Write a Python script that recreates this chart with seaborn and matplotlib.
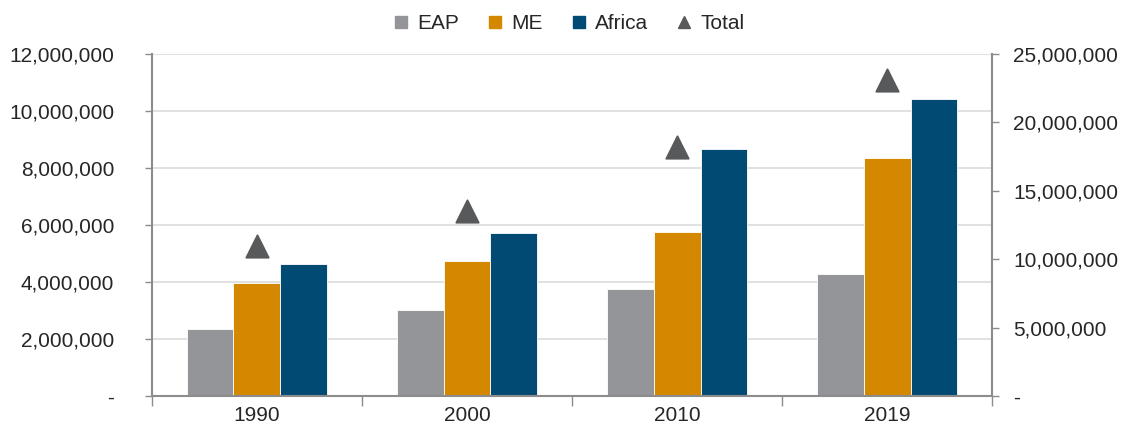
import numpy as np
import pandas as pd
import matplotlib
matplotlib.use("Agg")
import matplotlib.pyplot as plt
from matplotlib.lines import Line2D
from matplotlib.ticker import FuncFormatter, FixedLocator
import seaborn as sns

years = ["1990", "2000", "2010", "2019"]
eap = [2350000, 3010000, 3750000, 4270000]
me = [3980000, 4740000, 5760000, 8360000]
africa = [4620000, 5730000, 8650000, 10410000]
total = [10980000, 13500000, 18200000, 23100000]

series = ["EAP", "ME", "Africa"]
colors = {"EAP": "#939598", "ME": "#D48800", "Africa": "#004A73"}
tri_color = "#58595B"
axis_grey = "#8C8C8C"

sns.set_theme(style="white")
plt.rcParams["font.family"] = ["Liberation Sans", "DejaVu Sans"]

df = pd.DataFrame({"year": years * 3,
                   "series": [s for s in series for _ in years],
                   "value": eap + me + africa})

fig = plt.figure(figsize=(11.24, 4.28), dpi=100)
ax = fig.add_axes([0.135, 0.0748, 0.748, 0.799])

sns.barplot(data=df, x="year", y="value", hue="series", hue_order=series,
            palette=colors, saturation=1, width=0.667, edgecolor="white",
            linewidth=0.6, ax=ax, legend=False)
ax.set_xlim(-0.5, 3.5)
ax.set_ylim(0, 12000000)
ax.set_yticks(np.arange(0, 12000001, 2000000))
ax.yaxis.set_major_formatter(FuncFormatter(lambda v, p: "-" if v == 0 else f"{v:,.0f}"))
ax.yaxis.grid(True, color="#DCDCDC", linewidth=1.2)
ax.set_axisbelow(True)
ax.set_xlabel("")
ax.set_ylabel("")
ax.tick_params(axis="y", which="major", length=5, color=axis_grey, width=1,
               labelsize=15, pad=22, left=True)
ax.tick_params(axis="x", which="major", length=0, labelsize=15, pad=7)
ax.xaxis.set_minor_locator(FixedLocator([-0.5, 0.5, 1.5, 2.5, 3.5]))
ax.tick_params(axis="x", which="minor", length=7, color=axis_grey, width=1, bottom=True)
for side in ["top", "right"]:
    ax.spines[side].set_visible(False)
for side in ["left", "bottom"]:
    ax.spines[side].set_color(axis_grey)
    ax.spines[side].set_linewidth(1.5)

ax2 = ax.twinx()
sns.scatterplot(x=np.arange(len(years)), y=total, marker="^", s=260,
                color=tri_color, edgecolor=tri_color, ax=ax2, legend=False, zorder=5)
ax2.set_ylim(0, 25000000)
ax2.set_yticks(np.arange(0, 25000001, 5000000))
ax2.yaxis.set_major_formatter(FuncFormatter(lambda v, p: "-" if v == 0 else f"{v:,.0f}"))
ax2.tick_params(axis="y", length=5, color=axis_grey, width=1, labelsize=15, pad=10, right=True)
ax2.set_xlim(-0.5, 3.5)
for side in ["top", "left", "bottom"]:
    ax2.spines[side].set_visible(False)
ax2.spines["right"].set_color(axis_grey)
ax2.spines["right"].set_linewidth(1.5)

handles = [Line2D([], [], marker="s", linestyle="", color=colors[s], markersize=8) for s in series]
handles.append(Line2D([], [], marker="^", linestyle="", color=tri_color, markersize=9))
fig.legend(handles, series + ["Total"], loc="upper center", bbox_to_anchor=(0.505, 1.01),
           ncol=4, frameon=False, fontsize=15, handlelength=1.0, handletextpad=0.3,
           columnspacing=1.2)

fig.savefig("out.png", dpi=100)
